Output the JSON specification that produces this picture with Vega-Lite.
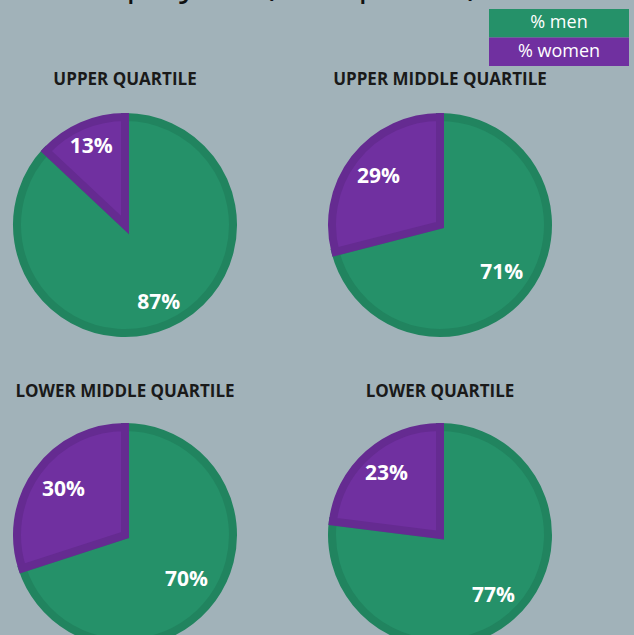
{
  "$schema": "https://vega.github.io/schema/vega-lite/v6.json",
  "background": "#a1b2b9",
  "padding": {"left": 0, "top": -34, "right": 5, "bottom": 0},
  "title": {"text": "Employees (staff profile)", "font": "Open Sans", "fontSize": 36, "fontWeight": "normal", "color": "#111111", "anchor": "start", "dx": 73, "offset": 6},
  "datasets": {
    "pies": [
      {"quartile": "UPPER QUARTILE", "sex": "% men", "share": 0.87},
      {"quartile": "UPPER QUARTILE", "sex": "% women", "share": 0.13},
      {"quartile": "UPPER MIDDLE QUARTILE", "sex": "% men", "share": 0.71},
      {"quartile": "UPPER MIDDLE QUARTILE", "sex": "% women", "share": 0.29},
      {"quartile": "LOWER MIDDLE QUARTILE", "sex": "% men", "share": 0.70},
      {"quartile": "LOWER MIDDLE QUARTILE", "sex": "% women", "share": 0.30},
      {"quartile": "LOWER QUARTILE", "sex": "% men", "share": 0.77},
      {"quartile": "LOWER QUARTILE", "sex": "% women", "share": 0.23}
    ],
    "legend": [{"sex": "% men"}, {"sex": "% women"}]
  },
  "spacing": 5,
  "vconcat": [
    {
      "spacing": 9,
      "hconcat": [
        {"width": 480, "height": 57, "data": {"values": [{}]}, "mark": {"type": "text"}, "encoding": {}},
        {
          "width": 140, "height": 57,
          "data": {"name": "legend"},
          "encoding": {"y": {"field": "sex", "type": "nominal", "axis": null, "scale": {"paddingInner": 0, "paddingOuter": 0}}},
          "layer": [
            {"mark": {"type": "rect"}, "encoding": {"color": {"field": "sex", "type": "nominal", "legend": null, "scale": {"domain": ["% men", "% women"], "range": ["#259169", "#7030a0"]}}}},
            {"mark": {"type": "text", "fill": "#ffffff", "font": "Open Sans", "fontSize": 18}, "encoding": {"text": {"field": "sex"}}}
          ]
        }
      ]
    },
    {
      "spacing": 34,
      "vconcat": [
        {
          "spacing": 65,
          "hconcat": [
            {
              "title": "UPPER QUARTILE",
              "width": 250, "height": 226,
              "data": {"name": "pies"},
              "transform": [{"filter": "datum.quartile === 'UPPER QUARTILE'"}],
              "encoding": {"theta": {"field": "share", "type": "quantitative", "stack": true}, "order": {"field": "sex", "type": "ordinal"}},
              "layer": [
                {"mark": {"type": "arc", "outerRadius": 108, "strokeWidth": 8, "strokeJoin": "miter"},
                 "encoding": {
                   "color": {"field": "sex", "type": "nominal", "legend": null, "scale": {"domain": ["% men", "% women"], "range": ["#259169", "#7030a0"]}},
                   "stroke": {"field": "sex", "type": "nominal", "legend": null, "scale": {"domain": ["% men", "% women"], "range": ["#21845f", "#652b91"]}}}},
                {"mark": {"type": "text", "radius": 85, "font": "Open Sans", "fontSize": 21, "fontWeight": "bold", "fill": "#ffffff"},
                 "encoding": {"text": {"field": "share", "type": "quantitative", "format": ".0%"}}}
              ]
            },
            {
              "title": "UPPER MIDDLE QUARTILE",
              "width": 250, "height": 226,
              "data": {"name": "pies"},
              "transform": [{"filter": "datum.quartile === 'UPPER MIDDLE QUARTILE'"}],
              "encoding": {"theta": {"field": "share", "type": "quantitative", "stack": true}, "order": {"field": "sex", "type": "ordinal"}},
              "layer": [
                {"mark": {"type": "arc", "outerRadius": 108, "strokeWidth": 8, "strokeJoin": "miter"},
                 "encoding": {
                   "color": {"field": "sex", "type": "nominal", "legend": null, "scale": {"domain": ["% men", "% women"], "range": ["#259169", "#7030a0"]}},
                   "stroke": {"field": "sex", "type": "nominal", "legend": null, "scale": {"domain": ["% men", "% women"], "range": ["#21845f", "#652b91"]}}}},
                {"mark": {"type": "text", "radius": 78, "font": "Open Sans", "fontSize": 21, "fontWeight": "bold", "fill": "#ffffff"},
                 "encoding": {"text": {"field": "share", "type": "quantitative", "format": ".0%"}}}
              ]
            }
          ]
        },
        {
          "spacing": 65,
          "hconcat": [
            {
              "title": {"text": "LOWER MIDDLE QUARTILE", "offset": 10},
              "width": 250, "height": 226,
              "data": {"name": "pies"},
              "transform": [{"filter": "datum.quartile === 'LOWER MIDDLE QUARTILE'"}],
              "encoding": {"theta": {"field": "share", "type": "quantitative", "stack": true}, "order": {"field": "sex", "type": "ordinal"}},
              "layer": [
                {"mark": {"type": "arc", "outerRadius": 108, "strokeWidth": 8, "strokeJoin": "miter"},
                 "encoding": {
                   "color": {"field": "sex", "type": "nominal", "legend": null, "scale": {"domain": ["% men", "% women"], "range": ["#259169", "#7030a0"]}},
                   "stroke": {"field": "sex", "type": "nominal", "legend": null, "scale": {"domain": ["% men", "% women"], "range": ["#21845f", "#652b91"]}}}},
                {"mark": {"type": "text", "radius": 76, "font": "Open Sans", "fontSize": 21, "fontWeight": "bold", "fill": "#ffffff"},
                 "encoding": {"text": {"field": "share", "type": "quantitative", "format": ".0%"}}}
              ]
            },
            {
              "title": {"text": "LOWER QUARTILE", "offset": 10},
              "width": 250, "height": 226,
              "data": {"name": "pies"},
              "transform": [{"filter": "datum.quartile === 'LOWER QUARTILE'"}],
              "encoding": {"theta": {"field": "share", "type": "quantitative", "stack": true}, "order": {"field": "sex", "type": "ordinal"}},
              "layer": [
                {"mark": {"type": "arc", "outerRadius": 108, "strokeWidth": 8, "strokeJoin": "miter"},
                 "encoding": {
                   "color": {"field": "sex", "type": "nominal", "legend": null, "scale": {"domain": ["% men", "% women"], "range": ["#259169", "#7030a0"]}},
                   "stroke": {"field": "sex", "type": "nominal", "legend": null, "scale": {"domain": ["% men", "% women"], "range": ["#21845f", "#652b91"]}}}},
                {"mark": {"type": "text", "radius": 81, "font": "Open Sans", "fontSize": 21, "fontWeight": "bold", "fill": "#ffffff"},
                 "encoding": {"text": {"field": "share", "type": "quantitative", "format": ".0%"}}}
              ]
            }
          ]
        }
      ]
    }
  ],
  "config": {
    "view": {"stroke": null},
    "title": {"font": "Open Sans", "fontSize": 17, "fontWeight": "bold", "color": "#1a1a1a", "anchor": "middle", "offset": 12}
  }
}
